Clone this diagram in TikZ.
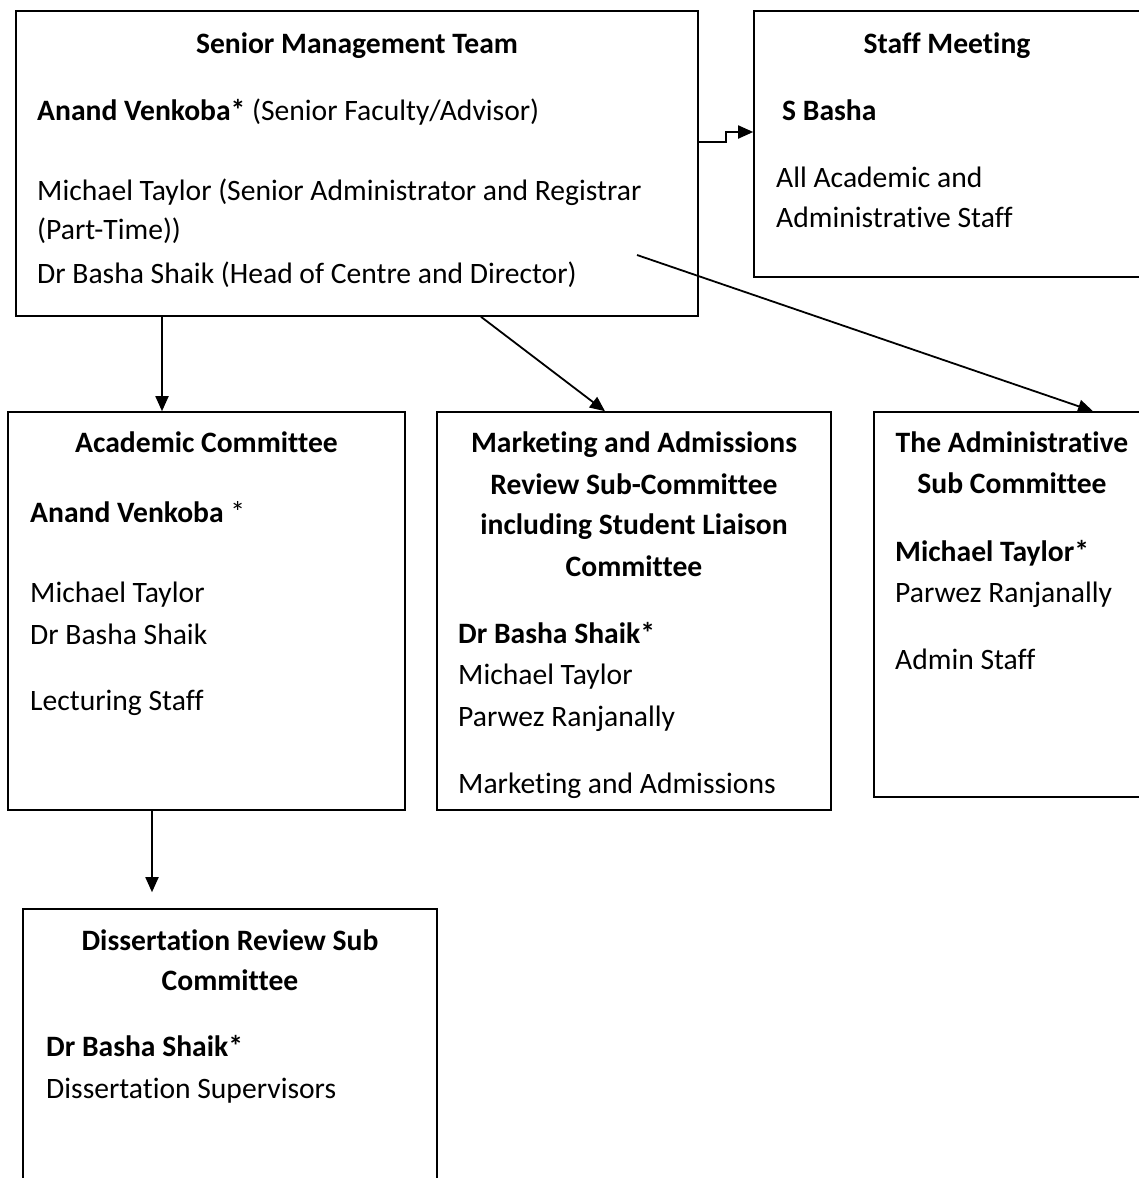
\documentclass[tikz,border=0pt]{standalone}
\usepackage{fontspec}
\setmainfont{Carlito}[Ligatures=NoCommon]
\usetikzlibrary{arrows.meta}
\tikzset{
  box/.style={draw, line width=1.6pt, inner sep=0pt},
  ttl/.style={anchor=base, inner sep=0pt, font=\fontsize{29.6}{35}\selectfont\bfseries},
  txt/.style={anchor=base west, inner sep=0pt, font=\fontsize{29.6}{35}\selectfont},
  arrow/.style={line width=1.8pt, -{Triangle[length=15pt,width=13pt]}}
}
\begin{document}
\begin{tikzpicture}[x=1pt, y=-1pt]
\useasboundingbox (0,0) rectangle (1139,1178);
\clip (0,0) rectangle (1139,1178);
% boxes
\node[box, minimum width=682pt, minimum height=305pt] (smt) at (357,163.5) {};
\node[box, minimum width=390pt, minimum height=266pt] (staff) at (949,144) {};
\node[box, minimum width=397pt, minimum height=398pt] (acad) at (206.5,611) {};
\node[box, minimum width=394pt, minimum height=398pt] (mkt) at (634,611) {};
\node[box, minimum width=280pt, minimum height=385pt] (admin) at (1014,604.5) {};
\node[box, minimum width=414pt, minimum height=300pt] (diss) at (230,1059) {};
% senior management team
\node[ttl] (smt0) at (smt.center |- 0,53) {Senior Management Team};
\node[txt] (smt1) at (37,120) {\textbf{Anand Venkoba*} (Senior Faculty/Advisor)};
\node[txt] (smt2) at (37,200) {Michael Taylor (Senior Administrator and Registrar};
\node[txt] (smt3) at (37,239) {(Part-Time))};
\node[txt] (smt4) at (37,283) {Dr Basha Shaik (Head of Centre and Director)};
% staff meeting
\node[ttl] (staff0) at (947,53) {Staff Meeting};
\node[txt] (staff1) at (782,120) {\textbf{S Basha}};
\node[txt] (staff2) at (776,187) {All Academic and};
\node[txt] (staff3) at (776,227) {Administrative Staff};
% academic committee
\node[ttl] (acad0) at (acad.center |- 0,452) {Academic Committee};
\node[txt] (acad1) at (30,522) {\textbf{Anand Venkoba} *};
\node[txt] (acad2) at (30,602) {Michael Taylor};
\node[txt] (acad3) at (30,644) {Dr Basha Shaik};
\node[txt] (acad4) at (30,710) {Lecturing Staff};
% marketing and admissions
\node[ttl] (mkt0) at (mkt.center |- 0,452) {Marketing and Admissions};
\node[ttl] (mkt1) at (mkt.center |- 0,494) {Review Sub-Committee};
\node[ttl] (mkt2) at (mkt.center |- 0,534) {including Student Liaison};
\node[ttl] (mkt3) at (mkt.center |- 0,576) {Committee};
\node[txt] (mkt4) at (458,643) {\textbf{Dr Basha Shaik*}};
\node[txt] (mkt5) at (458,684) {Michael Taylor};
\node[txt] (mkt6) at (458,726) {Parwez Ranjanally};
\node[txt] (mkt7) at (458,793) {Marketing and Admissions};
% administrative sub committee
\node[ttl] (admin0) at (1012,452) {The Administrative};
\node[ttl] (admin1) at (1012,493) {Sub Committee};
\node[txt] (admin2) at (895,561) {\textbf{Michael Taylor*}};
\node[txt] (admin3) at (895,602) {Parwez Ranjanally};
\node[txt] (admin4) at (895,669) {Admin Staff};
% dissertation review
\node[ttl] (diss0) at (diss.center |- 0,950) {Dissertation Review Sub};
\node[ttl] (diss1) at (diss.center |- 0,990) {Committee};
\node[txt] (diss2) at (46,1056) {\textbf{Dr Basha Shaik*}};
\node[txt] (diss3) at (46,1098) {Dissertation Supervisors};
% connectors
\coordinate (tail) at (637,255);
\draw[arrow] (smt.east |- 0,142) -| (726,132) -- (staff.west |- 0,132);
\draw[arrow] (smt.south -| 162,0) -- (acad.north -| 162,0);
\draw[arrow] (smt.south -| 481,0) -- (mkt.north -| 605,0);
\draw[arrow] (tail) -- (admin.north -| 1093,0);
\draw[arrow, shorten >=16pt] (acad.south -| 152,0) -- (diss.north -| 152,0);
\end{tikzpicture}
\end{document}
